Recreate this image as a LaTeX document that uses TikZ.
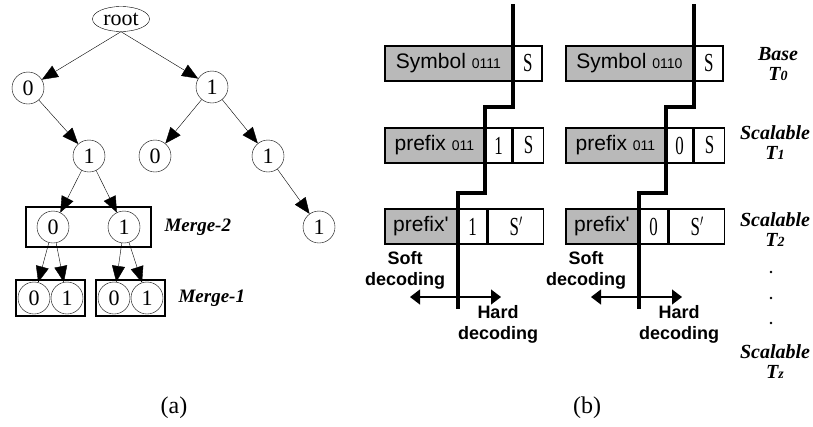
\documentclass[tikz,border=0pt]{standalone}
\usepackage{fontspec}
\setmainfont{Liberation Serif}
\setsansfont{Liberation Sans}
\usepackage{graphicx}
\usepackage{tikz}
\usetikzlibrary{arrows.meta, positioning, fit, shapes.geometric}
\newcommand{\fsz}[1]{\fontsize{#1}{#1}\selectfont}
\newcommand{\estreito}[1]{\scalebox{0.65}[1]{\fsz{26}#1}}

\begin{document}
\begin{tikzpicture}[x=1pt, y=-1pt,
    no/.style={circle, draw, thin, minimum size=32pt, inner sep=0pt, font=\fsz{22}},
    seta/.style={-{Triangle[length=16pt,width=13pt]}, thin},
    caixa/.style={draw, line width=1.6pt, inner ysep=4pt},
    merge/.style={font=\fsz{19}\bfseries\itshape},
    celula/.style={draw, line width=1.8pt, minimum height=35pt, inner sep=0pt, anchor=west},
    cinza/.style={celula, fill=gray!55, font=\sffamily\fsz{21}},
    branca/.style={celula, fill=white, font=\fsz{20}},
    grossa/.style={line width=4pt},
    dupla/.style={{Triangle[length=10pt,width=15pt]}-{Triangle[length=10pt,width=15pt]}, line width=1.2pt},
    decod/.style={align=center, font=\sffamily\bfseries\fontsize{18}{21}\selectfont},
    nivel/.style={align=center, font=\bfseries\itshape\fontsize{20}{20}\selectfont}]
    \useasboundingbox (0,0) rectangle (813,426);

    % Arvore
    \node[draw, thin, ellipse, minimum width=57pt, minimum height=25pt, inner sep=0pt, font=\fsz{22}] (r) at (121,19) {root};
    \node[no] (n0) at (28,88) {0};
    \node[no] (n1) at (212,87) {1};
    \node[no] (n01) at (89,156) {1};
    \node[no] (n10) at (155,156) {0};
    \node[no] (n11) at (268,156) {1};
    \node[no] (n010) at (53,227) {0};
    \node[no] (n011) at (124,227) {1};
    \node[no] (n111) at (319,227) {1};
    \foreach \x/\t/\n in {34/0/n0100, 67/1/n0101, 114/0/n0110, 147/1/n0111}
        \node[no] (\n) at (\x,298) {\t};

    % Caixas
    \node[caixa, fit=(n010)(n011), inner xsep=11pt] (m2) {};
    \node[caixa, fit=(n0100)(n0101), inner sep=2pt] (m1a) {};
    \node[caixa, fit=(n0110)(n0111), inner sep=2pt] (m1b) {};
    \node[merge, right=9pt of m2] (lm2) {Merge-2};
    \node[merge, right=9pt of m1b] (lm1) {Merge-1};

    % Setas
    \foreach \a/\b in {r.south/n0, r.south/n1, n0/n01, n1/n10, n1/n11, n01/n010, n01/n011,
                       n11/n111, n010/n0100, n010/n0101, n011/n0110, n011/n0111}
        \draw[seta] (\a) -- (\b);

    % Colunas
    \foreach \dx/\c/\bit/\cod in {0/esq/1/0111, 181/dir/0/0110} {
        \node[cinza, minimum width=127pt] (\c-sym) at (384+\dx,63.5) {Symbol {\fsz{14}\cod}};
        \node[branca, minimum width=28pt] (\c-s0) at (\c-sym.east) {\estreito{S}};
        \node[cinza, minimum width=99pt] (\c-pre) at (384+\dx,145.5) {prefix {\fsz{14}011}};
        \node[branca, minimum width=26pt] (\c-b1) at (\c-pre.east) {\estreito{\bit}};
        \node[branca, minimum width=30pt] (\c-s1) at (\c-b1.east) {\estreito{S}};
        \node[cinza, minimum width=72pt] (\c-pfx) at (384+\dx,226.5) {prefix\textquotesingle};
        \node[branca, minimum width=28pt] (\c-b2) at (\c-pfx.east) {\estreito{\bit}};
        \node[branca, minimum width=55pt] (\c-s2) at (\c-b2.east) {\estreito{S$'$}};
        % corte
        \coordinate (\c-topo) at (\c-sym.east |- 0,4);
        \coordinate (\c-fim) at (\c-pfx.east |- 0,309);
        \draw[grossa] (\c-topo) -- (\c-sym.east |- 0,107) -- (\c-pre.east |- 0,107)
            -- (\c-pre.east |- 0,193) -- (\c-pfx.east |- 0,193) -- (\c-fim);
        % decodificacao
        \coordinate (\c-sa) at (410+\dx,297);
        \coordinate (\c-ha) at (501+\dx,297);
        \draw[dupla] (\c-sa) -- (\c-ha);
        \node[decod] (\c-soft) at (405+\dx,270) {Soft\\decoding};
        \node[decod] (\c-hard) at (498+\dx,324) {Hard\\decoding};
    }

    % Camadas
    \node[nivel] (t0) at (778,64) {Base\\T{\fsz{14}0}};
    \node[nivel] (t1) at (775,143) {Scalable\\T{\fsz{14}1}};
    \node[nivel] (t2) at (775,230) {Scalable\\T{\fsz{14}2}};
    \node[nivel] (tz) at (775,362) {Scalable\\T{\fsz{14}z}};
    \foreach \y in {272,298,323}
        \fill (771,\y) circle (1.3pt);

    % Legendas
    \node[font=\fsz{24}] (capa) at (174,408) {(a)};
    \node[font=\fsz{24}] (capb) at (587,408) {(b)};
\end{tikzpicture}
\end{document}
